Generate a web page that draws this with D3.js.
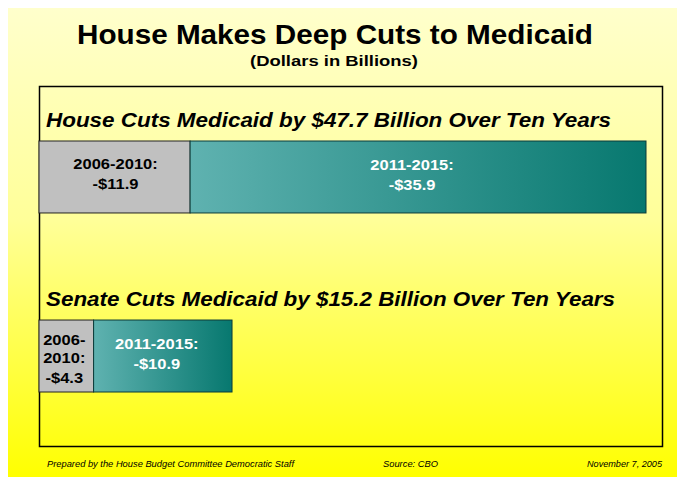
<!DOCTYPE html>
<html>
<head>
<meta charset="utf-8">
<script src="https://cdn.jsdelivr.net/npm/d3@7"></script>
<style>
  body { margin: 0; background: #fff; }
  text { font-family: "Liberation Sans", Arial, sans-serif; }
</style>
</head>
<body>
<script>
'use strict';

var width = 677,
    height = 477;

// chart data (billions of dollars)
var chambers = ["House", "Senate"];
var headings = ["House Cuts Medicaid by $47.7 Billion Over Ten Years",
                "Senate Cuts Medicaid by $15.2 Billion Over Ten Years"];
var periods = ["2006-2010", "2011-2015"];
var cuts2006 = [11.9, 4.3];
var cuts2011 = [35.9, 10.9];

var svg = d3.select("body").append("svg")
  .attr("width", width)
  .attr("height", height);

var defs = svg.append("defs");

var bg = defs.append("linearGradient")
  .attr("id", "bg")
  .attr("x1", 0).attr("y1", 0).attr("x2", 0).attr("y2", 1);
bg.append("stop").attr("offset", "0%").attr("stop-color", "#ffffcc");
bg.append("stop").attr("offset", "45%").attr("stop-color", "#ffff99");
bg.append("stop").attr("offset", "100%").attr("stop-color", "#ffff00");

var teal = defs.append("linearGradient")
  .attr("id", "teal")
  .attr("x1", 0).attr("y1", 0).attr("x2", 1).attr("y2", 0);
teal.append("stop").attr("offset", "0%").attr("stop-color", "#5fb2b0");
teal.append("stop").attr("offset", "100%").attr("stop-color", "#07786f");

// page background
svg.append("rect")
  .attr("x", 8).attr("y", 8)
  .attr("width", width - 8).attr("height", height - 8)
  .attr("fill", "url(#bg)");

// stretched text helper (the slide's type is set a bit wide)
function wideText(sel, len) {
  return sel.attr("textLength", len).attr("lengthAdjust", "spacingAndGlyphs");
}

// title
wideText(svg.append("text")
  .attr("x", 335).attr("y", 44)
  .attr("text-anchor", "middle")
  .style("font-size", "28px")
  .style("font-weight", "bold")
  .text("House Makes Deep Cuts to Medicaid"), 516);

wideText(svg.append("text")
  .attr("x", 334).attr("y", 66)
  .attr("text-anchor", "middle")
  .style("font-size", "15.5px")
  .style("font-weight", "bold")
  .text("(Dollars in Billions)"), 168);

// frame
svg.append("rect")
  .attr("x", 39.5).attr("y", 86.5)
  .attr("width", 623).attr("height", 360)
  .attr("fill", "none")
  .attr("stroke", "#000")
  .attr("stroke-width", 1.5);

var x = d3.scaleLinear()
  .domain([0, 47.8])
  .range([39, 646]);

var y = d3.scaleBand()
  .domain(chambers)
  .range([141, 392])
  .paddingInner(0.598)
  .paddingOuter(0);

var bandH = y.bandwidth();

var rows = svg.selectAll("g.row")
  .data(chambers)
  .enter().append("g")
  .attr("class", "row");

rows.append("text")
  .attr("x", 46)
  .attr("y", function(d) { return y(d) - 14; })
  .style("font-size", "21px")
  .style("font-weight", "bold")
  .style("font-style", "italic")
  .attr("textLength", function(d, i) { return i === 0 ? 565 : 569; })
  .attr("lengthAdjust", "spacingAndGlyphs")
  .text(function(d, i) { return headings[i]; });

// first period (gray)
rows.append("rect")
  .attr("x", x(0))
  .attr("y", function(d) { return y(d); })
  .attr("width", function(d, i) { return x(cuts2006[i]) - x(0); })
  .attr("height", bandH)
  .attr("fill", "#c0c0c0")
  .attr("stroke", "#222")
  .attr("stroke-width", 1);

// second period (teal)
rows.append("rect")
  .attr("x", function(d, i) { return x(cuts2006[i]); })
  .attr("y", function(d) { return y(d); })
  .attr("width", function(d, i) { return x(cuts2006[i] + cuts2011[i]) - x(cuts2006[i]); })
  .attr("height", bandH)
  .attr("fill", "url(#teal)")
  .attr("stroke", "#0b3b3a")
  .attr("stroke-width", 1);

function label(g, s, cx, yy, fill) {
  var t = g.append("text")
    .attr("x", cx)
    .attr("y", yy)
    .attr("text-anchor", "middle")
    .style("font-size", "15px")
    .style("font-weight", "bold")
    .attr("fill", fill)
    .text(s);
  var w = t.node().getComputedTextLength();
  t.attr("textLength", w * 1.1).attr("lengthAdjust", "spacingAndGlyphs");
}

rows.each(function(d, i) {
  var g = d3.select(this);
  var y0 = y(d);
  var cx = (x(0) + x(cuts2006[i])) / 2;
  var cx2 = (x(cuts2006[i]) + x(cuts2006[i] + cuts2011[i])) / 2 - 6;

  if (i === 0) {
    label(g, periods[0] + ":", cx + 1, y0 + 28, "#000");
    label(g, "-$" + cuts2006[i], cx + 1, y0 + 48, "#000");
  } else {
    var parts = periods[0].split("-");
    label(g, parts[0] + "-", cx - 2, y0 + 25, "#000");
    label(g, parts[1] + ":", cx - 2, y0 + 43, "#000");
    label(g, "-$" + cuts2006[i], cx - 2, y0 + 63, "#000");
  }
  label(g, periods[1] + ":", cx2, y0 + 29, "#fff");
  label(g, "-$" + cuts2011[i], cx2, y0 + 49, "#fff");
});

// footer
var foot = svg.append("g")
  .style("font-size", "9.5px")
  .style("font-style", "italic");

wideText(foot.append("text")
  .attr("x", 47).attr("y", 467)
  .text("Prepared by the House Budget Committee Democratic Staff"), 247);
wideText(foot.append("text")
  .attr("x", 383).attr("y", 467)
  .text("Source: CBO"), 55);
wideText(foot.append("text")
  .attr("x", 587).attr("y", 467)
  .text("November 7, 2005"), 75);
</script>
</body>
</html>
